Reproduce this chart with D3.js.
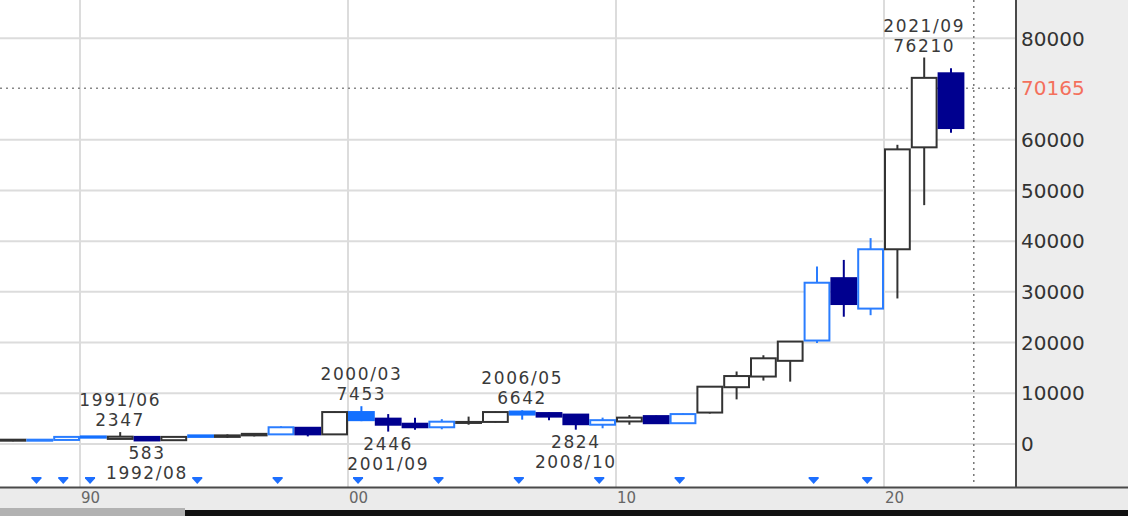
<!DOCTYPE html>
<html>
<head>
<meta charset="utf-8">
<script src="https://cdn.jsdelivr.net/npm/d3@7"></script>
<style>
  html, body { margin: 0; padding: 0; background: #fff; }
  svg { display: block; font-family: "DejaVu Sans", Verdana, sans-serif; }
</style>
</head>
<body>
<svg id="chart" width="1128" height="516"></svg>
<script>
// yearly candles
const years  = [1987, 1988, 1989, 1990, 1991, 1992, 1993, 1994, 1995, 1996, 1997, 1998,
                1999, 2000, 2001, 2002, 2003, 2004, 2005, 2006, 2007, 2008, 2009, 2010,
                2011, 2012, 2013, 2014, 2015, 2016, 2017, 2018, 2019, 2020, 2021, 2022];
const opens  = [650, 650, 800, 1500, 1000, 1400, 750, 1700, 1400, 1700, 1900, 3200,
                1900, 6300, 5000, 4000, 3300, 4150, 4350, 6400, 6100, 5800, 3800, 4450,
                5500, 4100, 6200, 11200, 13300, 16400, 20400, 32700, 26700, 38400, 58500, 73100];
const highs  = [1000, 900, 1450, 1550, 2347, 1450, 1450, 1750, 1900, 2100, 3500, 3300,
                6400, 7453, 5900, 5200, 4900, 5400, 6400, 6642, 6200, 5900, 5200, 5700,
                5600, 6000, 11400, 14300, 17500, 20300, 35000, 36300, 40600, 59000, 76210, 74100];
const lows   = [550, 600, 750, 1200, 950, 583, 700, 1350, 1200, 1500, 1800, 1500,
                1800, 4500, 2446, 2800, 2900, 3800, 4200, 4800, 4700, 2824, 3100, 3800,
                4000, 4000, 6000, 8800, 12500, 12300, 19900, 25100, 25400, 28700, 47100, 61400];
const closes = [850, 850, 1400, 1250, 1450, 700, 1400, 1400, 1700, 2000, 3300, 1900,
                6300, 4700, 3800, 3300, 4400, 4350, 6300, 5800, 5400, 3900, 4700, 5200,
                4100, 5900, 11300, 13400, 16900, 20200, 31800, 27600, 38400, 58100, 72200, 62300];

// years flagged with a blue marker (candles drawn in blue those years)
const markYears = [1988, 1989, 1990, 1994, 1997, 2000, 2003, 2006, 2009, 2012, 2017, 2019];
const markMonth = 5;

// high / low callouts
const notes = [
  { year: 1991, value: 2347,  date: "1991/06", side: "high" },
  { year: 1992, value: 583,   date: "1992/08", side: "low" },
  { year: 2000, value: 7453,  date: "2000/03", side: "high" },
  { year: 2001, value: 2446,  date: "2001/09", side: "low" },
  { year: 2006, value: 6642,  date: "2006/05", side: "high" },
  { year: 2008, value: 2824,  date: "2008/10", side: "low" },
  { year: 2021, value: 76210, date: "2021/09", side: "high" }
];

const yTicks = [0, 10000, 20000, 30000, 40000, 50000, 60000, 70000, 80000];
const decadeTicks = [1990, 2000, 2010, 2020];
const decadeLabels = ["90", "00", "10", "20"];
const lastPrice = 70165;
const nowYear = 2023.35;

const W = 1128, H = 516;
const plotRight = 1015, plotBottom = 487;

const x = d3.scaleLinear().domain([1990, 2020]).range([80, 884]);
const y = d3.scaleLinear().domain([0, 80000]).range([444, 38.3]);
const step = x(1991) - x(1990);

const colUp = "#333", colDown = "#00008f", colBlue = "#2a7dff", colBlueDown = "#1470ff";

const candles = years.map((yr, i) => ({
  year: yr, o: opens[i], h: highs[i], l: lows[i], c: closes[i],
  up: closes[i] >= opens[i],
  blue: markYears.includes(yr)
}));

const svg = d3.select("#chart");

svg.append("defs").append("clipPath").attr("id", "plot")
  .append("rect").attr("x", 0).attr("y", 0).attr("width", plotRight).attr("height", plotBottom);

// right axis panel + bottom band
svg.append("rect").attr("x", plotRight + 2).attr("y", 0)
  .attr("width", W - plotRight - 2).attr("height", plotBottom).attr("fill", "#ededed");
svg.append("rect").attr("x", 0).attr("y", plotBottom + 1)
  .attr("width", W).attr("height", 22).attr("fill", "#ebebeb");
svg.append("rect").attr("x", 0).attr("y", 508).attr("width", 185).attr("height", 8).attr("fill", "#b2b2b2");
svg.append("rect").attr("x", 185).attr("y", 510).attr("width", W - 185).attr("height", 6).attr("fill", "#111");

const plot = svg.append("g").attr("clip-path", "url(#plot)");

// grid
const shownTicks = yTicks.filter(t => Math.abs(y(t) - y(lastPrice)) > 12);
plot.selectAll(".hgrid").data(shownTicks).enter().append("line")
  .attr("x1", 0).attr("x2", plotRight)
  .attr("y1", d => y(d)).attr("y2", d => y(d))
  .attr("stroke", "#dcdcdc").attr("stroke-width", 2);
plot.selectAll(".vgrid").data(decadeTicks).enter().append("line")
  .attr("x1", d => x(d)).attr("x2", d => x(d))
  .attr("y1", 0).attr("y2", plotBottom)
  .attr("stroke", "#dcdcdc").attr("stroke-width", 2);

// "now" and last price dotted lines
plot.append("line")
  .attr("x1", x(nowYear)).attr("x2", x(nowYear)).attr("y1", 0).attr("y2", plotBottom - 4)
  .attr("stroke", "#777").attr("stroke-width", 1.5).attr("stroke-dasharray", "2,4");
plot.append("line")
  .attr("x1", 0).attr("x2", plotRight).attr("y1", y(lastPrice)).attr("y2", y(lastPrice))
  .attr("stroke", "#888").attr("stroke-width", 1.5).attr("stroke-dasharray", "2,4");

function lineColor(d) {
  if (d.blue) return d.up ? colBlue : colBlueDown;
  return d.up ? colUp : colDown;
}

// wicks
plot.selectAll(".wick").data(candles).enter().append("line")
  .attr("x1", d => x(d.year) + step / 2).attr("x2", d => x(d.year) + step / 2)
  .attr("y1", d => y(d.h)).attr("y2", d => y(d.l))
  .attr("stroke", lineColor).attr("stroke-width", 2);

// bodies
plot.selectAll(".body").data(candles).enter().append("rect")
  .attr("x", d => x(d.year) + 1)
  .attr("width", step - 2)
  .attr("y", d => y(Math.max(d.o, d.c)))
  .attr("height", d => Math.max(Math.abs(y(d.o) - y(d.c)), 0.5))
  .attr("fill", d => d.up ? "#fff" : lineColor(d))
  .attr("stroke", lineColor)
  .attr("stroke-width", 2);

// markers
plot.selectAll(".mark").data(markYears).enter().append("path")
  .attr("transform", d => `translate(${x(d + (markMonth - 0.5) / 12)},477)`)
  .attr("d", "M-5,0 L5,0 L5,1.5 L0,7 L-5,1.5 Z")
  .attr("fill", "#1d6fff");

// callouts
const note = plot.selectAll(".note").data(notes).enter().append("g")
  .attr("transform", d => `translate(${x(d.year) + step / 2},${y(d.value)})`)
  .style("font-size", "17px").style("letter-spacing", "1.6px")
  .attr("fill", "#3a3a3a").attr("text-anchor", "middle");
note.append("text")
  .attr("y", d => d.side === "high" ? -12 : 12).attr("dy", "0.36em")
  .text(d => d.value);
note.append("text")
  .attr("y", d => d.side === "high" ? -32 : 32).attr("dy", "0.36em")
  .text(d => d.date);

// axis borders
svg.append("line").attr("x1", plotRight + 1).attr("x2", plotRight + 1)
  .attr("y1", 0).attr("y2", plotBottom + 1).attr("stroke", "#4a4a4a").attr("stroke-width", 2);
svg.append("line").attr("x1", 0).attr("x2", W)
  .attr("y1", plotBottom + 0.5).attr("y2", plotBottom + 0.5).attr("stroke", "#4a4a4a").attr("stroke-width", 2);

// right axis labels
svg.selectAll(".ylab").data(shownTicks).enter().append("text")
  .attr("x", 1021).attr("y", d => y(d)).attr("dy", "0.36em")
  .style("font-size", "20px").attr("fill", "#333")
  .text(d => d);
svg.append("text")
  .attr("x", 1021).attr("y", y(lastPrice)).attr("dy", "0.36em")
  .style("font-size", "20px").attr("fill", "#f4705c")
  .text(lastPrice);

// bottom axis labels
svg.selectAll(".xlab").data(decadeTicks).enter().append("text")
  .attr("x", d => x(d) + 1).attr("y", 498).attr("dy", "0.36em")
  .style("font-size", "15px").attr("fill", "#666")
  .text((d, i) => decadeLabels[i]);
</script>
</body>
</html>
